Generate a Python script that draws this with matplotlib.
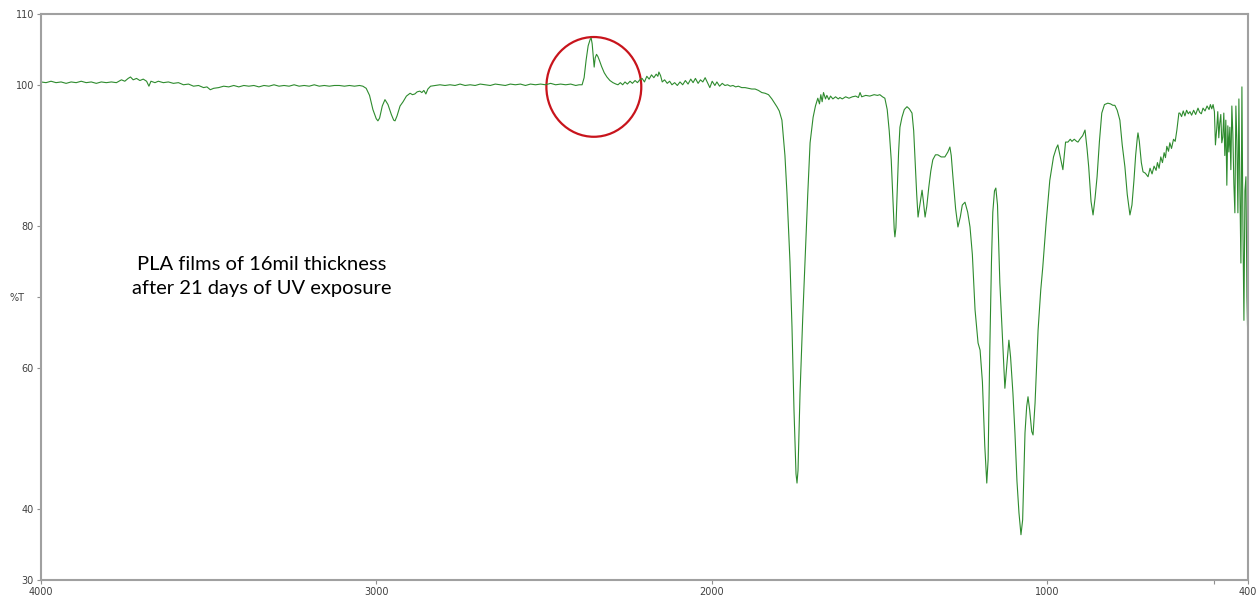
import matplotlib
matplotlib.use('Agg')
import matplotlib.pyplot as plt
from matplotlib.patches import Ellipse

# FTIR spectrum of PLA film
wavenumber = [
    4000, 3985, 3970, 3955, 3940, 3925, 3910, 3895, 3880, 3865, 3850, 3835, 3820, 3805,
    3790, 3775, 3760, 3750, 3740, 3733, 3725, 3715, 3705, 3695, 3685, 3678, 3672, 3660,
    3650, 3635, 3620, 3605, 3590, 3575, 3560, 3545, 3530, 3515, 3505, 3495, 3485, 3470,
    3455, 3440, 3425, 3410, 3395, 3380, 3365, 3350, 3335, 3320, 3305, 3290, 3275, 3260,
    3245, 3230, 3215, 3200, 3185, 3170, 3155, 3140, 3125, 3110, 3095, 3080, 3065, 3050,
    3040, 3030, 3020, 3010, 3000, 2995, 2990, 2982, 2974, 2965, 2955, 2948, 2944, 2938,
    2929, 2920, 2910, 2899, 2892, 2885, 2878, 2870, 2864, 2858, 2852, 2846, 2838, 2825,
    2810, 2795, 2780, 2765, 2750, 2735, 2720, 2705, 2690, 2675, 2660, 2645, 2630, 2615,
    2600, 2585, 2570, 2555, 2540, 2525, 2510, 2495, 2480, 2465, 2450, 2435, 2420, 2405,
    2395, 2386, 2380, 2374, 2368, 2362, 2359, 2356, 2352, 2350, 2347, 2343, 2339, 2334,
    2328, 2320, 2312, 2303, 2294, 2285, 2279, 2272, 2265, 2258, 2251, 2243, 2236, 2228,
    2221, 2214, 2207, 2200, 2193, 2186, 2179, 2172, 2165, 2160, 2157, 2152, 2147, 2140,
    2132, 2125, 2118, 2110, 2102, 2094, 2086, 2078, 2070, 2062, 2055, 2048, 2040, 2033,
    2026, 2019, 2012, 2005, 1998, 1990, 1984, 1976, 1968, 1960, 1952, 1944, 1936, 1928,
    1920, 1910, 1900, 1890, 1880, 1870, 1860, 1850, 1840, 1830, 1820, 1812, 1805, 1798,
    1790, 1781, 1775, 1766, 1760, 1754, 1748, 1745, 1742, 1736, 1728, 1721, 1713, 1706,
    1697, 1690, 1683, 1678, 1674, 1670, 1666, 1660, 1656, 1650, 1645, 1638, 1630, 1622,
    1617, 1610, 1600, 1590, 1580, 1570, 1562, 1557, 1552, 1540, 1528, 1515, 1505, 1498,
    1490, 1483, 1476, 1470, 1464, 1459, 1455, 1453, 1450, 1446, 1442, 1438, 1432, 1425,
    1417, 1410, 1402, 1397, 1393, 1388, 1384, 1378, 1372, 1368, 1363, 1358, 1352, 1346,
    1340, 1332, 1325, 1315, 1304, 1295, 1289, 1285, 1280, 1272, 1265, 1258, 1252, 1244,
    1236, 1229, 1222, 1214, 1205, 1199, 1192, 1185, 1179, 1175, 1170, 1165, 1161, 1156,
    1152, 1147, 1140, 1133, 1125, 1120, 1113, 1108, 1101, 1095, 1089, 1083, 1077, 1072,
    1065, 1060, 1056, 1051, 1045, 1041, 1035, 1026, 1018, 1012, 1002, 991, 980, 972,
    967, 962, 952, 944, 937, 930, 925, 918, 911, 907, 900, 893, 886, 880,
    875, 868, 862, 856, 850, 843, 836, 828, 818, 810, 803, 797, 790, 782,
    775, 767, 760, 752, 746, 740, 735, 730, 728, 724, 718, 713, 706, 698,
    692, 686, 680, 674, 670, 665, 660, 655, 650, 646, 642, 637, 633, 628,
    622, 617, 612, 606, 603, 598, 593, 588, 583, 578, 573, 568, 562, 556,
    549, 544, 539, 534, 528, 522, 516, 512, 508, 504, 500, 497, 493, 490,
    487, 484, 481, 478, 475, 472, 469, 466, 463, 460, 457, 454, 451, 448,
    445, 442, 439, 436, 433, 430, 427, 424, 421, 418, 415, 412, 409, 406,
    403, 400,
]
transmittance = [
    100.4, 100.3, 100.5, 100.3, 100.4, 100.2, 100.4, 100.3, 100.5, 100.3, 100.4, 100.2, 100.4, 100.3,
    100.4, 100.3, 100.7, 100.5, 100.9, 101.1, 100.7, 100.9, 100.6, 100.8, 100.5, 99.8, 100.5, 100.3,
    100.5, 100.3, 100.4, 100.2, 100.3, 100.0, 100.1, 99.8, 99.9, 99.6, 99.7, 99.3, 99.5, 99.6,
    99.8, 99.7, 99.9, 99.7, 99.9, 99.8, 99.9, 99.7, 99.9, 99.8, 100.0, 99.8, 99.9, 99.8,
    100.0, 99.8, 99.9, 99.8, 100.0, 99.8, 99.9, 99.8, 99.9, 99.9, 99.8, 99.9, 99.8, 99.9,
    99.8, 99.5, 98.5, 96.5, 95.2, 94.9, 95.3, 97.0, 97.9, 97.2, 95.8, 95.0, 94.9, 95.6,
    97.0, 97.6, 98.4, 98.8, 98.6, 98.7, 99.0, 99.1, 98.9, 99.2, 98.7, 99.4, 99.8, 99.9,
    100.0, 99.9, 100.0, 99.9, 100.1, 99.9, 100.0, 99.9, 100.1, 100.0, 99.9, 100.1, 100.0, 99.9,
    100.1, 100.0, 100.1, 99.9, 100.1, 100.0, 100.1, 100.0, 100.2, 100.0, 100.1, 100.0, 100.1, 99.9,
    100.0, 100.0, 101.0, 103.5, 105.5, 106.4, 106.6, 105.8, 103.5, 102.5, 103.8, 104.3, 104.0, 103.4,
    102.6, 101.7, 101.1, 100.6, 100.3, 100.1, 100.0, 100.3, 100.0, 100.4, 100.1, 100.5, 100.2, 100.6,
    100.3, 100.7, 100.9, 100.4, 101.2, 100.8, 101.4, 101.0, 101.5, 101.2, 101.8, 101.3, 100.4, 100.7,
    100.2, 100.5, 100.0, 100.3, 99.9, 100.4, 100.0, 100.6, 100.1, 100.8, 100.3, 100.9, 100.2, 100.7,
    100.4, 101.0, 100.3, 99.6, 100.5, 99.9, 100.4, 99.8, 100.2, 99.9, 100.0, 99.8, 99.9, 99.7,
    99.8, 99.6, 99.6, 99.5, 99.4, 99.4, 99.2, 98.9, 98.8, 98.6, 98.0, 97.4, 96.9, 96.3,
    95.0, 90.0, 84.7, 75.0, 65.8, 54.0, 45.0, 43.7, 45.5, 56.4, 67.0, 75.2, 84.5, 91.8,
    95.4, 97.0, 98.1, 97.3, 98.6, 97.6, 98.9, 98.0, 98.5, 97.9, 98.4, 98.0, 98.3, 98.0,
    98.2, 98.0, 98.3, 98.1, 98.3, 98.4, 98.2, 98.9, 98.3, 98.5, 98.4, 98.6, 98.5, 98.6,
    98.3, 98.1, 96.5, 93.5, 89.4, 84.0, 79.5, 78.5, 79.8, 85.0, 90.5, 94.0, 95.4, 96.5,
    96.9, 96.6, 96.0, 93.5, 89.4, 84.5, 81.3, 83.2, 85.1, 83.5, 81.3, 82.8, 85.5, 87.8,
    89.4, 90.1, 90.1, 89.8, 89.8, 90.5, 91.2, 90.0, 87.0, 82.5, 79.9, 81.3, 83.0, 83.4,
    82.0, 79.9, 76.0, 68.2, 63.5, 62.5, 58.0, 49.0, 43.7, 47.0, 62.5, 75.0, 82.0, 85.0,
    85.4, 83.0, 72.0, 65.0, 57.1, 60.0, 63.9, 61.5, 56.4, 50.8, 44.0, 39.5, 36.4, 38.5,
    50.8, 54.5, 55.9, 54.0, 51.0, 50.5, 55.0, 65.3, 71.0, 74.2, 80.5, 86.5, 89.8, 91.0,
    91.5, 90.3, 88.0, 91.9, 91.9, 92.3, 92.0, 92.3, 92.0, 91.9, 92.4, 92.8, 93.6, 91.0,
    88.4, 83.5, 81.6, 84.0, 87.0, 92.0, 96.0, 97.2, 97.4, 97.3, 97.1, 97.1, 96.4, 95.0,
    91.5, 88.4, 84.5, 81.6, 83.0, 86.5, 90.0, 92.5, 93.2, 92.0, 89.0, 87.7, 87.5, 87.0,
    88.2, 87.4, 88.5, 87.9, 89.0, 88.2, 89.8, 89.0, 90.4, 89.7, 91.3, 90.6, 91.8, 91.0,
    92.3, 92.0, 93.6, 96.0, 96.0, 95.5, 96.3, 95.6, 96.4, 95.9, 96.2, 95.7, 96.4, 95.8,
    96.7, 96.1, 95.9, 96.7, 96.3, 97.0, 96.5, 97.2, 96.6, 97.2, 96.2, 91.5, 93.9, 96.2,
    92.5, 94.6, 95.8, 91.8, 92.6, 96.0, 90.0, 95.0, 85.8, 94.2, 90.5, 94.0, 88.0, 97.0,
    93.0, 86.0, 81.9, 97.0, 92.0, 81.9, 98.0, 85.0, 74.8, 99.7, 80.0, 66.7, 85.0, 87.0,
    70.0, 62.9,
]

y_ticks = [30, 40, 60, 80, 100, 110]
x_ticks = [4000, 3000, 2000, 1000, 400]
note = 'PLA films of 16mil thickness\nafter 21 days of UV exposure'

fig = plt.figure(figsize=(12.57, 5.97), dpi=100)
ax = fig.add_axes([0.0326, 0.0285, 0.9602, 0.948])

ax.plot(wavenumber, transmittance, color='#2e8b2e', linewidth=0.8)

ax.set_xlim(4000, 400)
ax.set_ylim(30, 110)
ax.set_xticks(x_ticks)
ax.set_xticks([500], minor=True)
ax.set_yticks(y_ticks)
ax.set_yticks([70], minor=True)
ax.tick_params(which='both', direction='out', length=3, width=0.8, color='#909090',
               labelsize=7, labelcolor='#404040', pad=2)

for side in ['left', 'right', 'top', 'bottom']:
    ax.spines[side].set_color('#a0a0a0')
    ax.spines[side].set_linewidth(1.5)

ax.set_ylabel('%T', rotation=0, fontsize=7, color='#404040')
ax.yaxis.set_label_coords(-0.02, 0.49)

# circle round the CO2 peak
ax.add_patch(Ellipse((2351, 99.7), 283, 14.1, fill=False, edgecolor='#c8141c', linewidth=1.6))

ax.text(3341, 72.9, note, ha='center', va='center', fontsize=14.5, family='Lato',
        linespacing=1.55, color='black')

plt.savefig('out.png', dpi=100)
